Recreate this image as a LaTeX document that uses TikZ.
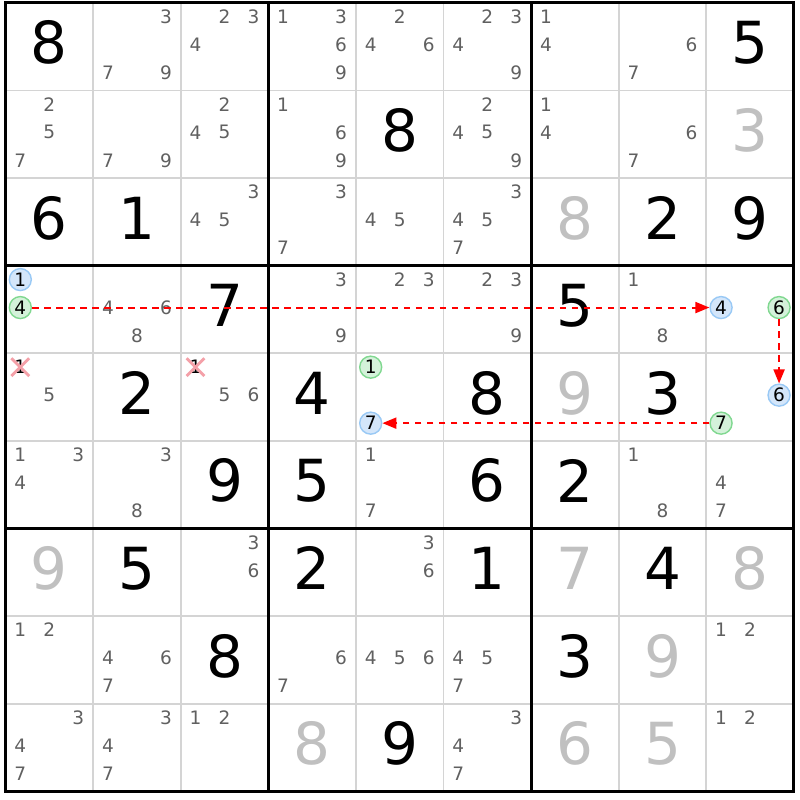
\documentclass[tikz,border=0pt]{standalone}
\usepackage{fontspec}
\setmainfont{DejaVu Sans}
\usetikzlibrary{arrows.meta,shapes.misc}

\definecolor{candgray}{HTML}{606060}
\definecolor{solvedgray}{HTML}{C0C0C0}
\definecolor{thingray}{HTML}{D4D4D4}
\definecolor{linkblue}{HTML}{99C9F5}
\definecolor{linkbluefill}{HTML}{D4E6FA}
\definecolor{linkgreen}{HTML}{80D890}
\definecolor{linkgreenfill}{HTML}{D4F2DA}
\definecolor{crosspink}{HTML}{F4A0A8}
\definecolor{linkred}{HTML}{FF0000}

\tikzset{
  given/.style={font=\fontsize{58pt}{58pt}\selectfont, inner sep=0pt, yshift=4pt},
  solved/.style={given, text=solvedgray},
  spot1/.style={xshift=-29pt,yshift=30pt},
  spot2/.style={yshift=30pt},
  spot3/.style={xshift=29pt,yshift=30pt},
  spot4/.style={xshift=-29pt,yshift=2pt},
  spot5/.style={yshift=2pt},
  spot6/.style={xshift=29pt,yshift=2pt},
  spot7/.style={xshift=-29pt,yshift=-26pt},
  spot8/.style={yshift=-26pt},
  spot9/.style={xshift=29pt,yshift=-26pt},
  cand/.style={font=\fontsize{18.5pt}{18.5pt}\selectfont, text=candgray, inner sep=0pt, spot#1},
  oncand/.style={cand=#1, circle, text=black, draw=linkblue, fill=linkbluefill, line width=1.4pt, minimum size=22pt},
  offcand/.style={cand=#1, circle, text=black, draw=linkgreen, fill=linkgreenfill, line width=1.4pt, minimum size=22pt},
  deadcand/.style={cand=#1, text=black, cross out, draw=crosspink, line width=2.8pt, minimum size=15pt},
  thinline/.style={thingray, line width=1.8pt},
  boxline/.style={black, line width=3pt},
  linkarrow/.style={draw=linkred, line width=2pt, dash pattern=on 6.5pt off 5.5pt, -{Triangle[length=14pt,width=11pt,fill=linkred]}}
}

\begin{document}
\begin{tikzpicture}[x=87.6pt,y=-87.6pt]
\fill[white] (-0.063,-0.034) rectangle (9.07,9.098);
\useasboundingbox (-0.063,-0.034) rectangle (9.07,9.098);

\draw[thinline] (1,0) -- (1,9);
\draw[thinline] (2,0) -- (2,9);
\draw[thinline] (4,0) -- (4,9);
\draw[thinline] (5,0) -- (5,9);
\draw[thinline] (7,0) -- (7,9);
\draw[thinline] (8,0) -- (8,9);
\draw[thinline] (0,1) -- (9,1);
\draw[thinline] (0,2) -- (9,2);
\draw[thinline] (0,4) -- (9,4);
\draw[thinline] (0,5) -- (9,5);
\draw[thinline] (0,7) -- (9,7);
\draw[thinline] (0,8) -- (9,8);
\draw[boxline] (3,0) -- (3,9);
\draw[boxline] (6,0) -- (6,9);
\draw[boxline] (0,3) -- (9,3);
\draw[boxline] (0,6) -- (9,6);
\draw[boxline] (0,0) rectangle (9,9);

\node[given] (r1c1) at (0.5,0.5) {8};
\node[cand=3] (r1c2d3) at (1.5,0.5) {3};
\node[cand=7] (r1c2d7) at (1.5,0.5) {7};
\node[cand=9] (r1c2d9) at (1.5,0.5) {9};
\node[cand=2] (r1c3d2) at (2.5,0.5) {2};
\node[cand=3] (r1c3d3) at (2.5,0.5) {3};
\node[cand=4] (r1c3d4) at (2.5,0.5) {4};
\node[cand=1] (r1c4d1) at (3.5,0.5) {1};
\node[cand=3] (r1c4d3) at (3.5,0.5) {3};
\node[cand=6] (r1c4d6) at (3.5,0.5) {6};
\node[cand=9] (r1c4d9) at (3.5,0.5) {9};
\node[cand=2] (r1c5d2) at (4.5,0.5) {2};
\node[cand=4] (r1c5d4) at (4.5,0.5) {4};
\node[cand=6] (r1c5d6) at (4.5,0.5) {6};
\node[cand=2] (r1c6d2) at (5.5,0.5) {2};
\node[cand=3] (r1c6d3) at (5.5,0.5) {3};
\node[cand=4] (r1c6d4) at (5.5,0.5) {4};
\node[cand=9] (r1c6d9) at (5.5,0.5) {9};
\node[cand=1] (r1c7d1) at (6.5,0.5) {1};
\node[cand=4] (r1c7d4) at (6.5,0.5) {4};
\node[cand=6] (r1c8d6) at (7.5,0.5) {6};
\node[cand=7] (r1c8d7) at (7.5,0.5) {7};
\node[given] (r1c9) at (8.5,0.5) {5};

\node[cand=2] (r2c1d2) at (0.5,1.5) {2};
\node[cand=5] (r2c1d5) at (0.5,1.5) {5};
\node[cand=7] (r2c1d7) at (0.5,1.5) {7};
\node[cand=7] (r2c2d7) at (1.5,1.5) {7};
\node[cand=9] (r2c2d9) at (1.5,1.5) {9};
\node[cand=2] (r2c3d2) at (2.5,1.5) {2};
\node[cand=4] (r2c3d4) at (2.5,1.5) {4};
\node[cand=5] (r2c3d5) at (2.5,1.5) {5};
\node[cand=1] (r2c4d1) at (3.5,1.5) {1};
\node[cand=6] (r2c4d6) at (3.5,1.5) {6};
\node[cand=9] (r2c4d9) at (3.5,1.5) {9};
\node[given] (r2c5) at (4.5,1.5) {8};
\node[cand=2] (r2c6d2) at (5.5,1.5) {2};
\node[cand=4] (r2c6d4) at (5.5,1.5) {4};
\node[cand=5] (r2c6d5) at (5.5,1.5) {5};
\node[cand=9] (r2c6d9) at (5.5,1.5) {9};
\node[cand=1] (r2c7d1) at (6.5,1.5) {1};
\node[cand=4] (r2c7d4) at (6.5,1.5) {4};
\node[cand=6] (r2c8d6) at (7.5,1.5) {6};
\node[cand=7] (r2c8d7) at (7.5,1.5) {7};
\node[solved] (r2c9) at (8.5,1.5) {3};

\node[given] (r3c1) at (0.5,2.5) {6};
\node[given] (r3c2) at (1.5,2.5) {1};
\node[cand=3] (r3c3d3) at (2.5,2.5) {3};
\node[cand=4] (r3c3d4) at (2.5,2.5) {4};
\node[cand=5] (r3c3d5) at (2.5,2.5) {5};
\node[cand=3] (r3c4d3) at (3.5,2.5) {3};
\node[cand=7] (r3c4d7) at (3.5,2.5) {7};
\node[cand=4] (r3c5d4) at (4.5,2.5) {4};
\node[cand=5] (r3c5d5) at (4.5,2.5) {5};
\node[cand=3] (r3c6d3) at (5.5,2.5) {3};
\node[cand=4] (r3c6d4) at (5.5,2.5) {4};
\node[cand=5] (r3c6d5) at (5.5,2.5) {5};
\node[cand=7] (r3c6d7) at (5.5,2.5) {7};
\node[solved] (r3c7) at (6.5,2.5) {8};
\node[given] (r3c8) at (7.5,2.5) {2};
\node[given] (r3c9) at (8.5,2.5) {9};

\node[oncand=1] (r4c1d1) at (0.5,3.5) {1};
\node[offcand=4] (r4c1d4) at (0.5,3.5) {4};
\node[cand=4] (r4c2d4) at (1.5,3.5) {4};
\node[cand=6] (r4c2d6) at (1.5,3.5) {6};
\node[cand=8] (r4c2d8) at (1.5,3.5) {8};
\node[given] (r4c3) at (2.5,3.5) {7};
\node[cand=3] (r4c4d3) at (3.5,3.5) {3};
\node[cand=9] (r4c4d9) at (3.5,3.5) {9};
\node[cand=2] (r4c5d2) at (4.5,3.5) {2};
\node[cand=3] (r4c5d3) at (4.5,3.5) {3};
\node[cand=2] (r4c6d2) at (5.5,3.5) {2};
\node[cand=3] (r4c6d3) at (5.5,3.5) {3};
\node[cand=9] (r4c6d9) at (5.5,3.5) {9};
\node[given] (r4c7) at (6.5,3.5) {5};
\node[cand=1] (r4c8d1) at (7.5,3.5) {1};
\node[cand=8] (r4c8d8) at (7.5,3.5) {8};
\node[oncand=4] (r4c9d4) at (8.5,3.5) {4};
\node[offcand=6] (r4c9d6) at (8.5,3.5) {6};

\node[deadcand=1] (r5c1d1) at (0.5,4.5) {1};
\node[cand=5] (r5c1d5) at (0.5,4.5) {5};
\node[given] (r5c2) at (1.5,4.5) {2};
\node[deadcand=1] (r5c3d1) at (2.5,4.5) {1};
\node[cand=5] (r5c3d5) at (2.5,4.5) {5};
\node[cand=6] (r5c3d6) at (2.5,4.5) {6};
\node[given] (r5c4) at (3.5,4.5) {4};
\node[offcand=1] (r5c5d1) at (4.5,4.5) {1};
\node[oncand=7] (r5c5d7) at (4.5,4.5) {7};
\node[given] (r5c6) at (5.5,4.5) {8};
\node[solved] (r5c7) at (6.5,4.5) {9};
\node[given] (r5c8) at (7.5,4.5) {3};
\node[oncand=6] (r5c9d6) at (8.5,4.5) {6};
\node[offcand=7] (r5c9d7) at (8.5,4.5) {7};

\node[cand=1] (r6c1d1) at (0.5,5.5) {1};
\node[cand=3] (r6c1d3) at (0.5,5.5) {3};
\node[cand=4] (r6c1d4) at (0.5,5.5) {4};
\node[cand=3] (r6c2d3) at (1.5,5.5) {3};
\node[cand=8] (r6c2d8) at (1.5,5.5) {8};
\node[given] (r6c3) at (2.5,5.5) {9};
\node[given] (r6c4) at (3.5,5.5) {5};
\node[cand=1] (r6c5d1) at (4.5,5.5) {1};
\node[cand=7] (r6c5d7) at (4.5,5.5) {7};
\node[given] (r6c6) at (5.5,5.5) {6};
\node[given] (r6c7) at (6.5,5.5) {2};
\node[cand=1] (r6c8d1) at (7.5,5.5) {1};
\node[cand=8] (r6c8d8) at (7.5,5.5) {8};
\node[cand=4] (r6c9d4) at (8.5,5.5) {4};
\node[cand=7] (r6c9d7) at (8.5,5.5) {7};

\node[solved] (r7c1) at (0.5,6.5) {9};
\node[given] (r7c2) at (1.5,6.5) {5};
\node[cand=3] (r7c3d3) at (2.5,6.5) {3};
\node[cand=6] (r7c3d6) at (2.5,6.5) {6};
\node[given] (r7c4) at (3.5,6.5) {2};
\node[cand=3] (r7c5d3) at (4.5,6.5) {3};
\node[cand=6] (r7c5d6) at (4.5,6.5) {6};
\node[given] (r7c6) at (5.5,6.5) {1};
\node[solved] (r7c7) at (6.5,6.5) {7};
\node[given] (r7c8) at (7.5,6.5) {4};
\node[solved] (r7c9) at (8.5,6.5) {8};

\node[cand=1] (r8c1d1) at (0.5,7.5) {1};
\node[cand=2] (r8c1d2) at (0.5,7.5) {2};
\node[cand=4] (r8c2d4) at (1.5,7.5) {4};
\node[cand=6] (r8c2d6) at (1.5,7.5) {6};
\node[cand=7] (r8c2d7) at (1.5,7.5) {7};
\node[given] (r8c3) at (2.5,7.5) {8};
\node[cand=6] (r8c4d6) at (3.5,7.5) {6};
\node[cand=7] (r8c4d7) at (3.5,7.5) {7};
\node[cand=4] (r8c5d4) at (4.5,7.5) {4};
\node[cand=5] (r8c5d5) at (4.5,7.5) {5};
\node[cand=6] (r8c5d6) at (4.5,7.5) {6};
\node[cand=4] (r8c6d4) at (5.5,7.5) {4};
\node[cand=5] (r8c6d5) at (5.5,7.5) {5};
\node[cand=7] (r8c6d7) at (5.5,7.5) {7};
\node[given] (r8c7) at (6.5,7.5) {3};
\node[solved] (r8c8) at (7.5,7.5) {9};
\node[cand=1] (r8c9d1) at (8.5,7.5) {1};
\node[cand=2] (r8c9d2) at (8.5,7.5) {2};

\node[cand=3] (r9c1d3) at (0.5,8.5) {3};
\node[cand=4] (r9c1d4) at (0.5,8.5) {4};
\node[cand=7] (r9c1d7) at (0.5,8.5) {7};
\node[cand=3] (r9c2d3) at (1.5,8.5) {3};
\node[cand=4] (r9c2d4) at (1.5,8.5) {4};
\node[cand=7] (r9c2d7) at (1.5,8.5) {7};
\node[cand=1] (r9c3d1) at (2.5,8.5) {1};
\node[cand=2] (r9c3d2) at (2.5,8.5) {2};
\node[solved] (r9c4) at (3.5,8.5) {8};
\node[given] (r9c5) at (4.5,8.5) {9};
\node[cand=3] (r9c6d3) at (5.5,8.5) {3};
\node[cand=4] (r9c6d4) at (5.5,8.5) {4};
\node[cand=7] (r9c6d7) at (5.5,8.5) {7};
\node[solved] (r9c7) at (6.5,8.5) {6};
\node[solved] (r9c8) at (7.5,8.5) {5};
\node[cand=1] (r9c9d1) at (8.5,8.5) {1};
\node[cand=2] (r9c9d2) at (8.5,8.5) {2};

\draw[linkarrow] (r4c1d4) -- (r4c9d4);
\draw[linkarrow] (r4c9d6) -- (r5c9d6);
\draw[linkarrow] (r5c9d7) -- (r5c5d7);
\end{tikzpicture}
\end{document}
